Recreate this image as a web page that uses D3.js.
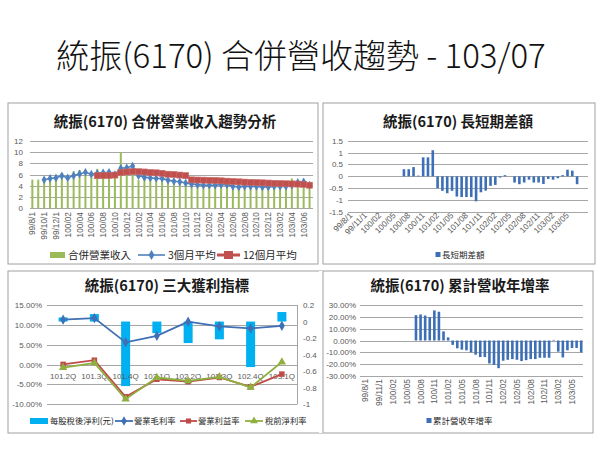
<!DOCTYPE html>
<html><head><meta charset="utf-8">
<script src="https://cdn.jsdelivr.net/npm/d3@7"></script>
<style>body{margin:0;background:#fff} svg{display:block}</style>
</head><body>
<svg id="c" width="600" height="450"></svg>
<script>
// ---------- data ----------
const months = ["99/8/1","99/9/1","99/10/1","99/11/1","99/12/1",
 "100/01","100/02","100/03","100/04","100/05","100/06","100/07","100/08","100/09","100/10","100/11","100/12",
 "101/01","101/02","101/03","101/04","101/05","101/06","101/07","101/08","101/09","101/10","101/11","101/12",
 "102/01","102/02","102/03","102/04","102/05","102/06","102/07","102/08","102/09","102/10","102/11","102/12",
 "103/01","103/02","103/03","103/04","103/05","103/06","103/07"];
const revenue = [5.1,5.1,5.0,5.7,5.5,6.0,4.8,6.6,6.8,5.8,5.6,7.0,6.2,6.0,5.6,10.0,6.0,6.4,5.0,5.2,6.0,4.8,5.4,4.9,4.3,4.8,4.4,4.0,4.3,4.1,4.0,4.2,4.3,4.1,3.6,3.9,4.0,3.9,3.8,3.8,3.9,4.0,3.8,3.9,5.3,4.6,4.3,3.5];
const avg3 = [null,null,5.06,5.3,5.4,5.76,5.4,5.8,6.1,6.4,6.05,6.2,6.3,6.4,6.0,7.1,7.2,7.5,5.8,5.5,5.4,5.3,5.3,5.0,4.8,4.7,4.5,4.3,4.2,4.1,4.1,4.1,4.2,4.2,3.9,3.8,3.9,3.9,3.9,3.8,3.8,3.9,3.9,3.9,4.1,4.6,4.7,4.1];
const avg12 = [null,null,null,null,null,null,null,null,null,null,null,
 5.78,5.8,5.85,5.9,6.35,6.45,6.5,6.5,6.45,6.35,6.3,6.2,6.05,6.0,5.9,5.8,
 5.05,5.02,5.0,4.97,4.94,4.88,4.82,4.76,4.7,4.65,4.6,4.56,4.52,4.48,4.44,4.4,4.36,4.33,4.3,4.25,4.1];
const diff = [null,null,null,null,null,null,null,null,null,null,null,
 0.3,0.3,0.39,0.03,0.8,0.8,1.1,-0.5,-0.61,-0.71,-0.61,-0.85,-0.87,-0.87,-0.87,-1.05,-0.67,-0.6,-0.4,-0.36,-0.05,0.05,0.0,-0.26,-0.33,-0.26,-0.14,-0.26,-0.26,-0.32,-0.11,-0.14,-0.08,0.05,0.28,0.24,-0.33];
const cumYoY = [null,null,null,null,null,null,null,null,null,null,null,
 21.4,22.0,21.1,19.7,25.4,24.3,7.7,2.6,-3.7,-6.6,-7.7,-8.3,-10,-12,-14,-14,-19.4,-20.6,-23.4,-17.1,-16.3,-15.7,-16.3,-17.4,-16.6,-15.7,-15.7,-14.6,-14.6,-14.6,0.5,-9.4,-14.3,-8.3,-6.3,-6.3,-10];
const quarters = ["101.2Q","101.3Q","101.4Q","102.1Q","102.2Q","102.3Q","102.4Q","103.1Q"];
const eps = [0.05,0.09,-0.78,-0.14,-0.26,-0.215,-0.55,0.115];
const grossMargin = [11.3,11.7,5.6,7.25,10.8,9.6,9.1,9.75];
const opMargin = [0.05,1.1,-8.1,-3.7,-4.3,-3.25,-5.6,-2.4];
const pretaxMargin = [-0.75,0.4,-8.7,-3.25,-4.1,-3.1,-5.75,0.65];

const ticks1 = [0,2,4,6,8,10,12];
const ticks2 = [1.5,1,0.5,0,-0.5,-1,-1.5];
const ticks3L = [15,10,5,0,-5,-10];
const ticks3R = [0.2,0,-0.2,-0.4,-0.6,-0.8,-1];
const ticks4 = [30,20,10,0,-10,-20,-30];

const mainTitle = "統振(6170) 合併營收趨勢 - 103/07";
const titles = ["統振(6170) 合併營業收入趨勢分析","統振(6170) 長短期差額","統振(6170) 三大獲利指標","統振(6170) 累計營收年增率"];
const legend1 = ["合併營業收入","3個月平均","12個月平均"];
const legend2 = ["長短期差額"];
const legend3 = ["每股稅後淨利(元)","營業毛利率","營業利益率","稅前淨利率"];
const legend4 = ["累計營收年增率"];

// ---------- drawing ----------
const svg = d3.select("#c");
const CJK = "'Noto Sans CJK TC','Noto Sans CJK SC',sans-serif";
const NUM = "'Liberation Sans','Noto Sans CJK TC',sans-serif";
const GRID = "#a6a6a6", LBL = "#595959", BORDER = "#a0a0a0";
const C_GREEN="#9BBB59", C_BLUE="#4F81BD", C_RED="#C0504D", C_CYAN="#00B0F0", C_BAR="#3D6FB6";

svg.append("text").attr("x",301).attr("y",68).attr("text-anchor","middle")
  .attr("font-family",CJK).attr("font-size",33).attr("font-weight",300).attr("fill","#111").text(mainTitle);

function panel(x,y,w,h){
  const g = svg.append("g");
  g.append("rect").attr("x",x).attr("y",y).attr("width",w).attr("height",h)
   .attr("fill","#fff").attr("stroke",BORDER).attr("stroke-width",1);
  return g;
}
function ptitle(g,t,x,y){
  g.append("text").attr("x",x).attr("y",y).attr("text-anchor","middle").attr("font-family",CJK)
   .attr("font-size",14.5).attr("font-weight",700).attr("fill","#1a1a1a").text(t);
}
function hgrid(g,scale,ticks,x1,x2,lx,fmt,anchor){
  g.selectAll(null).data(ticks).join("line").attr("x1",x1).attr("x2",x2)
   .attr("y1",d=>Math.round(scale(d))+0.5).attr("y2",d=>Math.round(scale(d))+0.5)
   .attr("stroke",GRID).attr("stroke-width",1);
  labels(g,scale,ticks,lx,fmt,anchor||"end");
}
function labels(g,scale,ticks,lx,fmt,anchor){
  g.selectAll(null).data(ticks).join("text").attr("x",lx).attr("y",d=>scale(d)+3)
   .attr("text-anchor",anchor).attr("font-family",NUM).attr("font-size",8).attr("fill",LBL).text(fmt);
}
const idx = months.map((m,i)=>i);

// ===== Panel 1 =====
{
const g = panel(8,103,310,161);
ptitle(g,titles[0],165,127);
const x = d3.scaleBand().domain(idx).range([29.4,312.5]);
const y = d3.scaleLinear().domain([0,12]).range([208.3,140.7]);
hgrid(g,y,ticks1,30,313,23,d=>d);
const cx = i=>x(i)+x.bandwidth()/2;
g.selectAll(null).data(revenue).join("rect").attr("x",(d,i)=>cx(i)-1).attr("width",2)
  .attr("y",d=>y(d)).attr("height",d=>y(0)-y(d)).attr("fill",C_GREEN);
const l3 = d3.line().defined(d=>d!=null).x((d,i)=>cx(i)).y(d=>y(d));
g.append("path").attr("d",l3(avg3)).attr("fill","none").attr("stroke",C_BLUE).attr("stroke-width",1.6);
const dia = d3.symbol().type(d3.symbolDiamond).size(22);
g.selectAll(null).data(avg3.map((d,i)=>[d,i]).filter(p=>p[0]!=null)).join("path")
  .attr("d",dia).attr("transform",p=>`translate(${cx(p[1])},${y(p[0])})`).attr("fill",C_BLUE);
g.append("path").attr("d",l3(avg12)).attr("fill","none").attr("stroke",C_RED).attr("stroke-width",3);
g.selectAll(null).data(avg12.map((d,i)=>[d,i]).filter(p=>p[0]!=null)).join("rect")
  .attr("x",p=>cx(p[1])-3).attr("y",p=>y(p[0])-3).attr("width",6).attr("height",6)
  .attr("fill",C_RED).attr("stroke","#c96b69").attr("stroke-width",0.6);
const tk = idx.filter(i=>i%2===0);
g.selectAll(null).data(tk).join("text").attr("text-anchor","end")
  .attr("transform",i=>`translate(${cx(i)+3},212) rotate(-90)`)
  .attr("font-family",NUM).attr("font-size",8.3).attr("fill",LBL).text(i=>months[i]);
const ly=255;
g.append("rect").attr("x",50).attr("y",ly-3).attr("width",15).attr("height",6).attr("fill",C_GREEN);
g.append("line").attr("x1",138).attr("x2",165).attr("y1",ly).attr("y2",ly).attr("stroke",C_BLUE).attr("stroke-width",1.6);
g.append("path").attr("d",d3.symbol().type(d3.symbolDiamond).size(30)).attr("transform",`translate(151.5,${ly})`).attr("fill",C_BLUE);
g.append("line").attr("x1",217).attr("x2",240).attr("y1",ly).attr("y2",ly).attr("stroke",C_RED).attr("stroke-width",3);
g.append("rect").attr("x",224).attr("y",ly-4).attr("width",9).attr("height",8).attr("fill",C_RED);
[[68,legend1[0]],[168,legend1[1]],[243,legend1[2]]].forEach(([lx,t])=>
  g.append("text").attr("x",lx).attr("y",ly+4).attr("font-family",CJK).attr("font-size",10.5).attr("fill","#262626").text(t));
}

// ===== Panel 2 =====
{
const g = panel(323,103,272,161);
ptitle(g,titles[1],458,127);
const x = d3.scaleBand().domain(idx).range([348.6,579.5]);
const y = d3.scaleLinear().domain([-1.5,1.5]).range([212,140.7]);
hgrid(g,y,ticks2,348,588,343,d=>d);
const cx = i=>x(i)+x.bandwidth()/2;
g.selectAll(null).data(diff.map((d,i)=>[d,i]).filter(p=>p[0]!=null)).join("rect")
  .attr("x",p=>cx(p[1])-1.3).attr("width",2.6)
  .attr("y",p=>y(Math.max(0,p[0]))).attr("height",p=>Math.abs(y(p[0])-y(0)))
  .attr("fill",C_BAR);
const tk = idx.filter(i=>i%3===0);
g.selectAll(null).data(tk).join("text").attr("text-anchor","end")
  .attr("transform",i=>`translate(${cx(i)+2},216) rotate(-45)`)
  .attr("font-family",NUM).attr("font-size",8.3).attr("fill",LBL).text(i=>months[i]);
g.append("rect").attr("x",435.5).attr("y",252).attr("width",5).attr("height",5).attr("fill",C_BAR);
g.append("text").attr("x",442).attr("y",258).attr("font-family",CJK).attr("font-size",8.5).attr("fill","#262626").text(legend2[0]);
}

// ===== Panel 3 =====
{
const g = panel(8,271,314,162);
ptitle(g,titles[2],167,291);
const x = d3.scaleBand().domain(quarters).range([47.5,297.5]);
const yL = d3.scaleLinear().domain([-10,15]).range([404.3,305]);
const yR = d3.scaleLinear().domain([-1,0.2]).range([404.3,305]);
hgrid(g,yL,ticks3L,47,297,42,d=>d.toFixed(2)+"%");
labels(g,yR,ticks3R,303,d=>d,"start");
g.append("line").attr("x1",297.5).attr("x2",297.5).attr("y1",305).attr("y2",404.3).attr("stroke",GRID);
const cx = q=>x(q)+x.bandwidth()/2;
g.selectAll(null).data(eps).join("rect").attr("x",(d,i)=>cx(quarters[i])-4.5).attr("width",9)
  .attr("y",d=>yR(Math.max(0,d))).attr("height",d=>Math.abs(yR(d)-yR(0))).attr("fill",C_CYAN);
g.selectAll(null).data(quarters).join("text").attr("x",q=>cx(q)).attr("y",379)
  .attr("text-anchor","middle").attr("font-family",NUM).attr("font-size",8).attr("fill",LBL).text(q=>q);
const line = d3.line().x((d,i)=>cx(quarters[i])).y(d=>yL(d));
function series(data,color,marker){
  g.append("path").attr("d",line(data)).attr("fill","none").attr("stroke",color).attr("stroke-width",1.8);
  g.selectAll(null).data(data).join("path").attr("d",marker)
   .attr("transform",(d,i)=>`translate(${cx(quarters[i])},${yL(d)})`).attr("fill",color);
}
series(grossMargin,"#3F6FB5",d3.symbol().type(d3.symbolDiamond).size(30));
series(opMargin,"#BE4B48",d3.symbol().type(d3.symbolSquare).size(30));
series(pretaxMargin,"#8FB040",d3.symbol().type(d3.symbolTriangle).size(30));
const ly=421;
g.append("rect").attr("x",30).attr("y",ly-3).attr("width",18).attr("height",6).attr("fill",C_CYAN);
[[115,133,"#3F6FB5",d3.symbolDiamond],[180,197,"#BE4B48",d3.symbolSquare],[245,263,"#8FB040",d3.symbolTriangle]].forEach(([a,b,c,s])=>{
  g.append("line").attr("x1",a).attr("x2",b).attr("y1",ly).attr("y2",ly).attr("stroke",c).attr("stroke-width",1.8);
  g.append("path").attr("d",d3.symbol().type(s).size(26)).attr("transform",`translate(${(a+b)/2},${ly})`).attr("fill",c);
});
[[50,legend3[0]],[134,legend3[1]],[198,legend3[2]],[265,legend3[3]]].forEach(([lx,t])=>
  g.append("text").attr("x",lx).attr("y",ly+3).attr("font-family",CJK).attr("font-size",8.3).attr("fill","#262626").text(t));
}

// ===== Panel 4 =====
{
const g = svg.append("g");
g.append("rect").attr("x",319).attr("y",271).attr("width",275).attr("height",162).attr("fill","#fff");
g.append("rect").attr("x",323).attr("y",271).attr("width",270).attr("height",162).attr("fill","#fff").attr("stroke",BORDER);
ptitle(g,titles[3],460,291);
const x = d3.scaleBand().domain(idx).range([363.2,583.5]);
const y = d3.scaleLinear().domain([-30,30]).range([376,305]);
hgrid(g,y,ticks4,360,583,356,d=>d.toFixed(2)+"%");
const cx = i=>x(i)+x.bandwidth()/2;
g.selectAll(null).data(cumYoY.map((d,i)=>[d,i]).filter(p=>p[0]!=null)).join("rect")
  .attr("x",p=>cx(p[1])-1.3).attr("width",2.6)
  .attr("y",p=>y(Math.max(0,p[0]))).attr("height",p=>Math.abs(y(p[0])-y(0)))
  .attr("fill",C_BAR);
const tk = idx.filter(i=>i%3===0);
g.selectAll(null).data(tk).join("text").attr("text-anchor","end")
  .attr("transform",i=>`translate(${cx(i)+3},379) rotate(-90)`)
  .attr("font-family",NUM).attr("font-size",8.3).attr("fill",LBL).text(i=>months[i]);
g.append("rect").attr("x",426.5).attr("y",418).attr("width",5).attr("height",5).attr("fill",C_BAR);
g.append("text").attr("x",433).attr("y",424).attr("font-family",CJK).attr("font-size",8.5).attr("fill","#262626").text(legend4[0]);
}
</script>
</body></html>
